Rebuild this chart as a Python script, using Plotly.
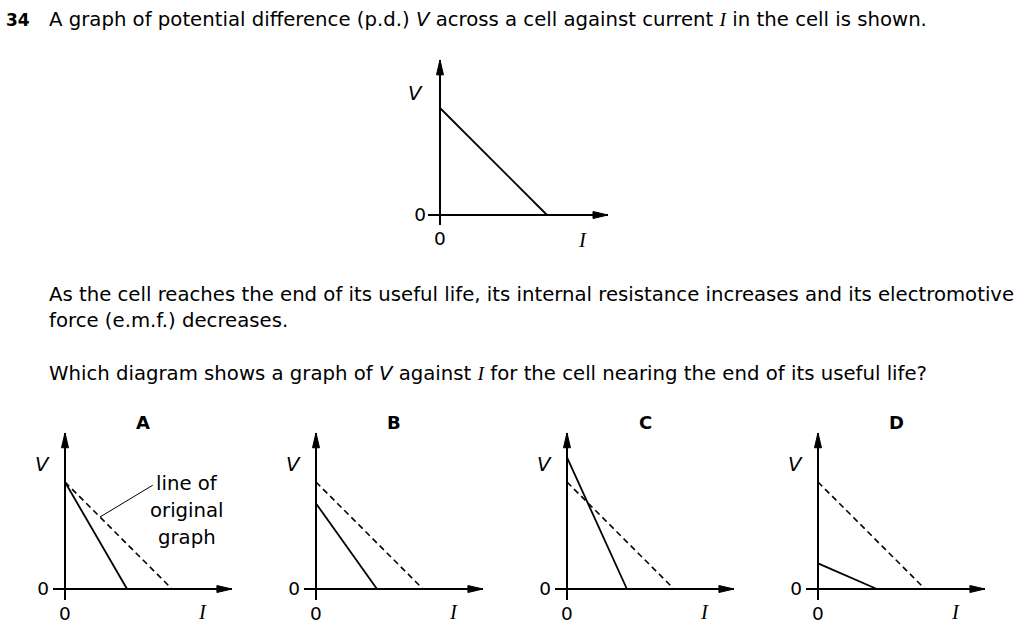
import plotly.graph_objects as go

# ---------------- data ----------------
panels = ["orig", "A", "B", "C", "D"]
panel_labels = ["", "A", "B", "C", "D"]
emf = [1.0, 1.0, 0.80, 1.23, 0.24]            # V intercept of the solid line
short_current = [1.0, 0.58, 0.57, 0.56, 0.55]  # I intercept of the solid line
orig_emf = 1.0
orig_current = 1.0

title_num = "34"
line1 = ("A graph of potential difference (p.d.) <i>V</i> across a cell against current "
         "<span style=\"font-family:Liberation Serif\"><i>I</i></span> in the cell is shown.")
line2 = "As the cell reaches the end of its useful life, its internal resistance increases and its electromotive"
line3 = "force (e.m.f.) decreases."
line4 = ("Which diagram shows a graph of <i>V</i> against "
         "<span style=\"font-family:Liberation Serif\"><i>I</i></span> for the cell nearing the end of its useful life?")
note_lines = ["line of", "original", "graph"]

# ---------------- layout helpers ----------------
W, H = 1024, 643
K = 107.0  # px per data unit
FONT = "DejaVu Sans, Verdana, sans-serif"
SERIF = "Liberation Serif, Times New Roman, serif"
TS = 19.7

origins = [(440, 215), (65, 589), (316, 589), (567, 589), (818, 589)]
xr_top, yr_top = (-0.112, 1.57), (-0.093, 1.45)
xr_small, yr_small = (-0.112, 1.56), (-0.10, 1.46)

fig = go.Figure()
shapes = []
annotations = []


def paper(px, py):
    return px / W, 1 - py / H


def label(px, py, text, family, size, xanchor="center"):
    x, y = paper(px, py)
    annotations.append(dict(xref="paper", yref="paper", x=x, y=y, text=text, showarrow=False,
                            xanchor=xanchor, yanchor="middle",
                            font=dict(family=family, size=size, color="black")))


for i, name in enumerate(panels):
    ox, oy = origins[i]
    xr, yr = (xr_top, yr_top) if i == 0 else (xr_small, yr_small)
    xd = [(ox + xr[0] * K) / W, (ox + xr[1] * K) / W]
    yd = [1 - (oy - yr[0] * K) / H, 1 - (oy - yr[1] * K) / H]
    sfx = "" if i == 0 else str(i + 1)
    xa, ya = "x" + sfx, "y" + sfx
    common = dict(showgrid=False, zeroline=True, zerolinecolor="black", zerolinewidth=2,
                  showline=False, ticks="", tickvals=[0], ticktext=["0"],
                  tickfont=dict(family=FONT, size=18.5, color="black"), fixedrange=True)
    fig.layout["xaxis" + sfx] = dict(domain=xd, range=list(xr), anchor=ya, ticklabelstandoff=1, **common)
    fig.layout["yaxis" + sfx] = dict(domain=yd, range=list(yr), anchor=xa, ticklabelstandoff=3 if i else 1, **common)

    # dashed original line on answer panels
    if i > 0:
        fig.add_trace(go.Scatter(x=[0, orig_current], y=[orig_emf, 0], mode="lines",
                                 line=dict(color="black", width=1.6, dash="6px,4px"),
                                 xaxis=xa, yaxis=ya, hoverinfo="skip", showlegend=False))
    fig.add_trace(go.Scatter(x=[0, short_current[i]], y=[emf[i], 0], mode="lines",
                             line=dict(color="black", width=1.8),
                             xaxis=xa, yaxis=ya, hoverinfo="skip", showlegend=False))

    # arrow heads at the axis ends
    shapes.append(dict(type="path", xref=xa, yref=ya, xsizemode="pixel", ysizemode="pixel",
                       xanchor=xr[1], yanchor=0, path="M-15,-3.5 L0,0 L-15,3.5 Z",
                       fillcolor="black", line=dict(color="black", width=1)))
    shapes.append(dict(type="path", xref=xa, yref=ya, xsizemode="pixel", ysizemode="pixel",
                       xanchor=0, yanchor=yr[1], path="M-3.5,-15 L0,0 L3.5,-15 Z",
                       fillcolor="black", line=dict(color="black", width=1)))

    # axis letters (paper coordinates so they can sit outside the axis ranges)
    vdx, vdy = (-25, -122) if i == 0 else (-23, -124)
    idx_, idy = (142, 25) if i == 0 else (137, 23)
    label(ox + vdx, oy + vdy, "<i>V</i>", FONT, TS)
    label(ox + idx_, oy + idy, "<i>I</i>", SERIF, 20.5)
    if panel_labels[i]:
        label(ox + 78, oy - 167, "<b>" + panel_labels[i] + "</b>", FONT, 18)

# leader line and note on panel A
shapes.append(dict(type="line", xref="x2", yref="y2", x0=0.327, y0=1 - 0.327, x1=0.82, y1=0.97,
                   line=dict(color="black", width=1)))
for j, t in enumerate(note_lines):
    label(187, 483 + 27 * j, t, FONT, TS)

# question text
label(4, 20, "<b>" + title_num + "</b>", FONT, 17, "left")
label(47, 20, line1, FONT, TS, "left")
label(47, 294, line2, FONT, TS, "left")
label(47, 320, line3, FONT, TS, "left")
label(47, 373, line4, FONT, TS, "left")

fig.update_layout(width=W, height=H, autosize=False, margin=dict(l=0, r=0, t=0, b=0),
                  paper_bgcolor="white", plot_bgcolor="rgba(0,0,0,0)",
                  shapes=shapes, annotations=annotations, showlegend=False)

fig.write_html("out.html", config={"displayModeBar": False, "staticPlot": True},
               post_script="document.body.style.margin='0';document.body.style.overflow='hidden';")
